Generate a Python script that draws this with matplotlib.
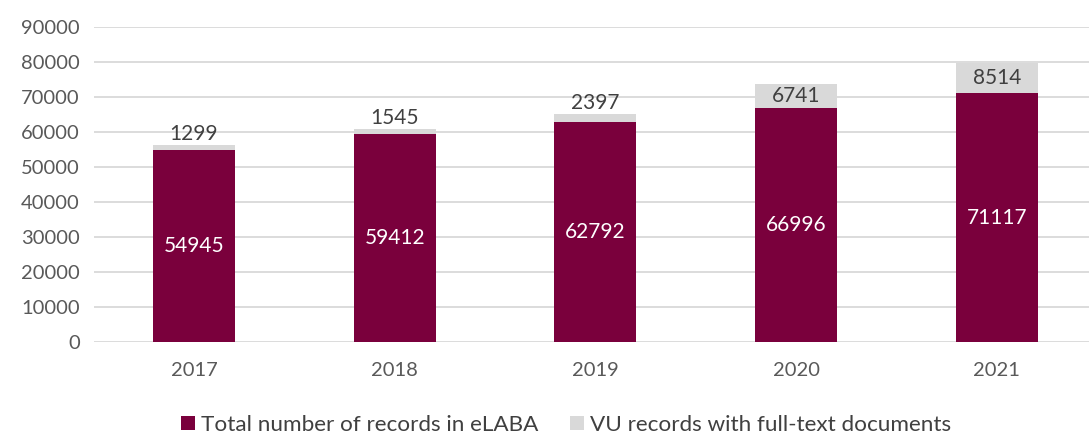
import matplotlib
matplotlib.use("Agg")
import matplotlib.pyplot as plt
import numpy as np

plt.rcParams['font.family'] = ['Lato', 'DejaVu Sans']

years = ['2017', '2018', '2019', '2020', '2021']
total_records = [54945, 59412, 62792, 66996, 71117]
fulltext_records = [1299, 1545, 2397, 6741, 8514]

maroon = '#7A003C'
grey = '#D9D9D9'

fig = plt.figure(figsize=(10.89, 4.37), dpi=100)
ax = fig.add_axes([0.086, 0.217, 0.914, 0.721])

x = np.arange(len(years))
w = 0.41
ax.bar(x, total_records, w, color=maroon, label='Total number of records in eLABA', zorder=3)
ax.bar(x, fulltext_records, w, bottom=total_records, color=grey,
       label='VU records with full-text documents', zorder=3)

# labels: small grey segments get their label just above the bar
for i in range(len(years)):
    ax.text(x[i], total_records[i] / 2, str(total_records[i]), ha='center', va='center',
            color='white', fontsize=15, zorder=4)
    top = total_records[i] + fulltext_records[i]
    if fulltext_records[i] < 5000:
        ax.text(x[i], top + 300, str(fulltext_records[i]), ha='center', va='bottom',
                color='#404040', fontsize=15, zorder=4)
    else:
        ax.text(x[i], total_records[i] + fulltext_records[i] / 2, str(fulltext_records[i]),
                ha='center', va='center', color='#404040', fontsize=15, zorder=4)

ax.set_ylim(0, 90000)
ax.set_yticks(range(0, 90001, 10000))
ax.set_xlim(-0.5, 4.46)
ax.set_xticks(x)
ax.set_xticklabels(years)
ax.tick_params(axis='both', length=0, labelsize=14.5, colors='#595959')
ax.tick_params(axis='x', pad=14)
ax.tick_params(axis='y', pad=10)
ax.yaxis.grid(True, color='#D9D9D9', linewidth=1.3, zorder=0)
for s in ax.spines.values():
    s.set_visible(False)

fig.legend(loc='center', bbox_to_anchor=(0.52, 0.027), ncol=2, frameon=False,
           fontsize=16.2, handlelength=0.6, handleheight=0.6, handletextpad=0.3,
           columnspacing=1.4, labelcolor='#404040')

fig.savefig('out.png', dpi=100)
